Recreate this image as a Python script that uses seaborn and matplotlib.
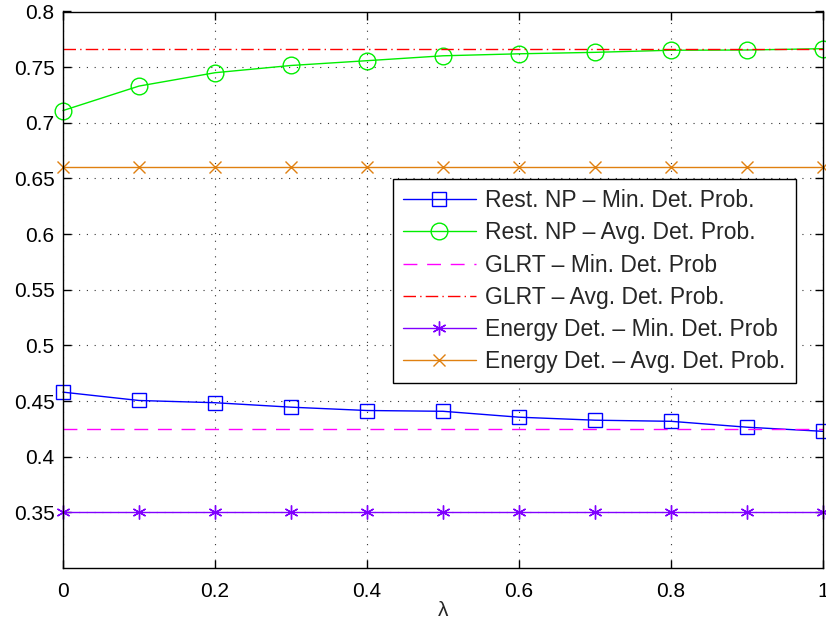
import numpy as np
import pandas as pd
import matplotlib
matplotlib.use("Agg")
import matplotlib.pyplot as plt
import seaborn as sns

lam = [0.0, 0.1, 0.2, 0.3, 0.4, 0.5, 0.6, 0.7, 0.8, 0.9, 1.0]
np_min = [0.458, 0.4505, 0.4485, 0.4445, 0.4415, 0.4408, 0.4355, 0.4328, 0.4318, 0.4265, 0.4228]
np_avg = [0.711, 0.733, 0.745, 0.7515, 0.7558, 0.7602, 0.762, 0.7633, 0.7652, 0.7654, 0.7666]
glrt_min = [0.4246] * 11
glrt_avg = [0.7666] * 11
en_min = [0.35] * 11
en_avg = [0.66] * 11

labels = ["Rest. NP \u2013 Min. Det. Prob.",
          "Rest. NP \u2013 Avg. Det. Prob.",
          "GLRT \u2013 Min. Det. Prob",
          "GLRT \u2013 Avg. Det. Prob.",
          "Energy Det. \u2013 Min. Det. Prob",
          "Energy Det. \u2013 Avg. Det. Prob."]
yticks = [0.35, 0.4, 0.45, 0.5, 0.55, 0.6, 0.65, 0.7, 0.75, 0.8]
xticks = [0, 0.2, 0.4, 0.6, 0.8, 1]

sns.set_theme(style="white")
plt.rcParams['font.family'] = ['Liberation Sans', 'DejaVu Sans']

series = [np_min, np_avg, glrt_min, glrt_avg, en_min, en_avg]
styles = [
    dict(color="#0000ff", ls="-", marker="s", ms=10),
    dict(color="#00ee00", ls="-", marker="o", ms=12),
    dict(color="#ff00ff", ls=(0, (10, 7)), marker=None, ms=0),
    dict(color="#ff0000", ls=(0, (9, 3, 1, 3)), marker=None, ms=0),
    dict(color="#8000ff", ls="-", marker=(6, 2, 0), ms=10),
    dict(color="#e08010", ls="-", marker="x", ms=9),
]

fig = plt.figure(figsize=(8.26, 6.28), dpi=100)
ax = fig.add_axes([63/826, (628-568)/628, (823-63)/826, (568-11.5)/628])

for vals, lab, st in zip(series, labels, styles):
    df = pd.DataFrame({"lam": lam, "val": vals})
    sns.lineplot(data=df, x="lam", y="val", ax=ax, color=st["color"], linewidth=1.0,
                 linestyle=st["ls"], marker=st["marker"], markersize=st["ms"],
                 markerfacecolor="none", markeredgecolor=st["color"], markeredgewidth=1.0,
                 label=lab, clip_on=False)

ax.set_xlim(0, 1)
ax.set_ylim(0.3, 0.8)
ax.set_xticks(xticks)
ax.set_xticklabels(["%g" % v for v in xticks])
ax.set_yticks(yticks)
ax.set_yticklabels(["%g" % v for v in yticks])
ax.tick_params(direction="in", length=6, width=1, top=True, right=True, labelsize=15,
               colors="black", bottom=True, left=True)
ax.tick_params(axis="x", pad=10)
ax.tick_params(axis="y", pad=6)
ax.grid(True, color="#333333", linestyle=(0, (1, 6)), linewidth=0.8)
for s in ax.spines.values():
    s.set_color("black")
    s.set_linewidth(1.0)
ax.set_xlabel("\u03bb", fontsize=15, labelpad=0)
ax.set_ylabel("")

leg = ax.legend(loc="upper right", bbox_to_anchor=(796/826, (628-179)/628),
                bbox_transform=fig.transFigure, fontsize=16.5, frameon=True, fancybox=False,
                edgecolor="black", framealpha=1, handlelength=3.2, borderpad=0.45,
                labelspacing=0.4, handletextpad=0.4, borderaxespad=0)
leg.get_frame().set_linewidth(1.0)

fig.savefig("out.png", dpi=100)
